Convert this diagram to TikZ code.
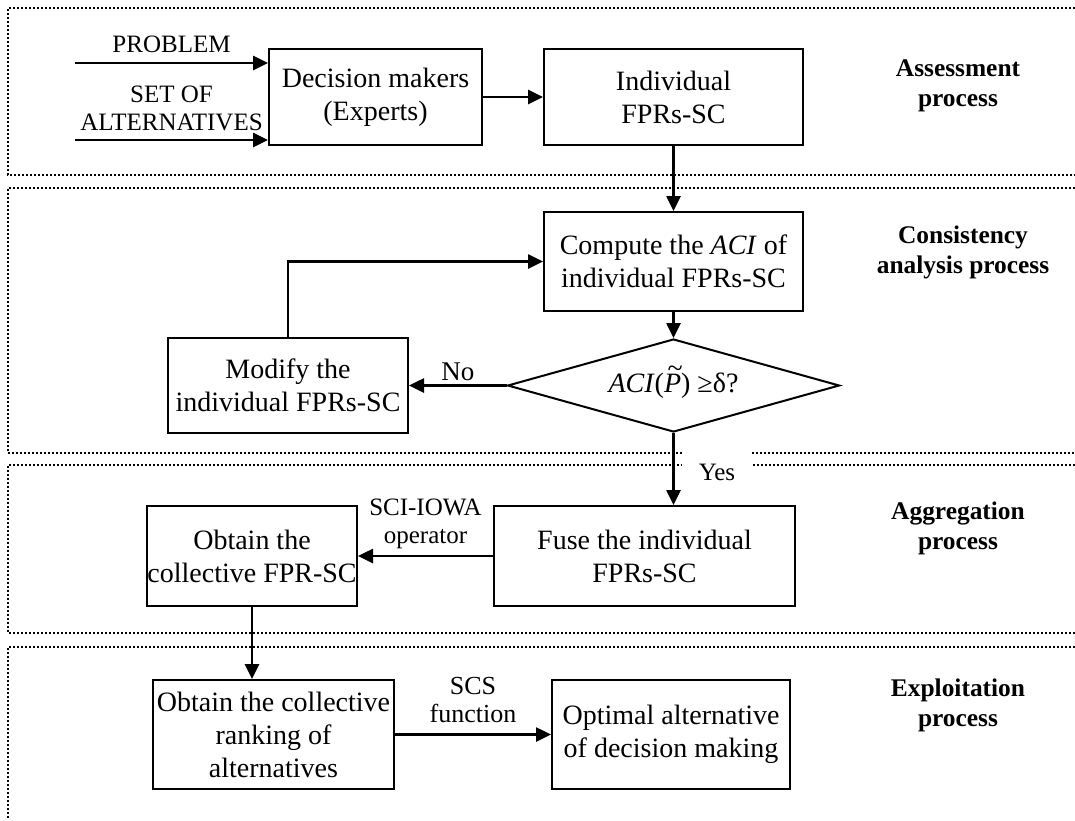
\documentclass[tikz,border=0pt]{standalone}
\usepackage{fontspec}
\setmainfont{Liberation Serif}
\usetikzlibrary{shapes.geometric,arrows.meta}

\newcommand{\tildeP}{\ooalign{\textit{P}\cr\hidewidth\kern0.18em\raisebox{0.52em}{\~{}}\hidewidth\cr}}

\begin{document}
\begin{tikzpicture}[
    x=0.5pt, y=-0.5pt,
    box/.style={
        draw,
        line width=1pt,
        align=center,
        inner sep=0pt,
        font=\fontsize{14}{16.5}\selectfont
    },
    check/.style={
        draw, diamond,
        aspect=3.57,
        line width=1pt,
        inner sep=0pt,
        minimum width=166pt,
        minimum height=46.5pt,
        font=\fontsize{14}{16.5}\selectfont
    },
    flow/.style={line width=1.3pt, -{Triangle[length=7.5pt,width=7pt]}},
    frame/.style={line width=1pt, dash pattern=on 1pt off 1pt, black},
    note/.style={font=\fontsize{12.5}{14}\selectfont, align=center},
    stage/.style={font=\fontsize{12.7}{15}\selectfont\bfseries, align=center}
]
\useasboundingbox (0,0) rectangle (1075,820);

% process frames
\draw[frame] (1075,8) -| (8,175) -- (1075,175);
\draw[frame] (1075,188) -| (8,453) -- (1075,453);
\draw[frame] (1075,465) -| (8,633) -- (1075,633);
\draw[frame] (1075,647) -| (8,820);

\node[stage] (assess) at (958,86) {Assessment\\process};
\node[stage] (consist) at (963,252) {Consistency\\analysis process};
\node[stage] (aggreg) at (958,528) {Aggregation\\process};
\node[stage] (exploit) at (958,705) {Exploitation\\process};

% assessment
\node[box, minimum width=106.5pt, minimum height=48pt] (dm) at (375.5,97) {Decision makers\\(Experts)};
\node[box, minimum width=129.5pt, minimum height=48pt] (ind) at (673.5,97) {Individual\\FPRs-SC};
\coordinate (prob) at (75,63);
\coordinate (alts) at (75,140);
\draw[flow] (prob) -- node[note, above, inner sep=4.5pt] {PROBLEM} (prob -| dm.west);
\draw[flow] (alts) -- node[note, above, inner sep=4pt] {SET OF\\ALTERNATIVES} (alts -| dm.west);
\draw[flow] (dm) -- (ind);

% consistency
\node[box, minimum width=129.5pt, minimum height=49.5pt] (cmp) at (673.5,261.5) {Compute the \textit{ACI} of\\individual FPRs-SC};
\node[check] (dia) at (673.5,385.5) {\textit{ACI}(\tildeP) ≥δ?};
\node[box, minimum width=120pt, minimum height=47.5pt] (mod) at (288,385.5) {Modify the\\individual FPRs-SC};
\draw[flow] (ind) -- (cmp);
\draw[flow] (cmp) -- (dia);
\draw[flow] (dia.west) -- node[note, above, inner sep=1.5pt, font=\fontsize{13.5}{15}\selectfont] {No} (mod.east);
\draw[flow] (mod.north) |- (cmp.west);

% aggregation
\node[box, minimum width=150.5pt, minimum height=50pt] (fuse) at (644.5,556) {Fuse the individual\\FPRs-SC};
\node[box, minimum width=105pt, minimum height=50pt] (obt) at (252,556) {Obtain the\\collective FPR-SC};
\node[note, fill=white, minimum width=35pt, minimum height=21pt] (yes) at (717,472) {Yes};
\draw[flow] (dia.south) -- (dia.south |- fuse.north);
\draw[flow] (fuse.west) -- node[note, above, inner sep=3pt] {SCI-IOWA\\operator} (obt.east);

% exploitation
\node[box, minimum width=120.5pt, minimum height=54.5pt] (rank) at (273.5,734.5) {Obtain the collective\\ranking of\\alternatives};
\node[box, minimum width=119pt, minimum height=54.5pt] (opt) at (671,734.5) {Optimal alternative\\of decision making};
\draw[flow] (obt.south) -- (obt.south |- rank.north);
\draw[flow] (rank.east) -- node[note, above, inner sep=5pt, font=\fontsize{13}{14}\selectfont] {SCS\\function} (opt.west);
\end{tikzpicture}
\end{document}
